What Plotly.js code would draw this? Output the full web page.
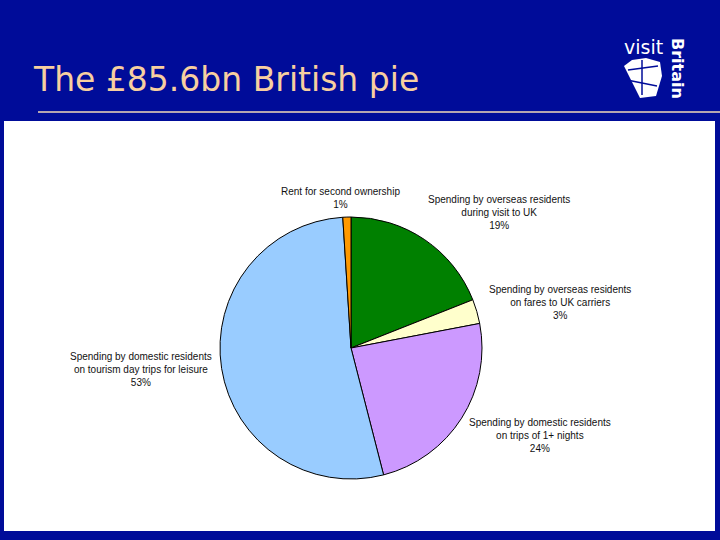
<!DOCTYPE html>
<html>
<head>
<meta charset="utf-8">
<script src="https://cdn.plot.ly/plotly-3.0.1.min.js"></script>
<style>html,body{margin:0;padding:0;background:#000C99;}#chart{width:720px;height:540px;}</style>
</head>
<body>
<div id="chart"></div>
<script>
// Data (clockwise from 12 o'clock)
const categories = [
  "Spending by overseas residents<br>during visit to UK",
  "Spending by overseas residents<br>on fares to UK carriers",
  "Spending by domestic residents<br>on trips of 1+ nights",
  "Spending by domestic residents<br>on tourism day trips for leisure",
  "Rent for second ownership"
];
const shares = [19, 3, 24, 53, 1];
const sliceColors = ["#008000", "#FFFFCC", "#CC99FF", "#99CCFF", "#FF9900"];
const titleText = "The £85.6bn British pie";

const W = 720, H = 540;
const px = x => x / W;
const py = y => 1 - y / H;

// label centres (pixels) for each category
const labelPos = [[499, 213], [560, 302], [540, 435], [141, 369], [340, 198]];

const annotations = categories.map((c, i) => ({
  text: c + "<br>" + shares[i] + "%",
  x: px(labelPos[i][0]), y: py(labelPos[i][1]),
  xref: "paper", yref: "paper", xanchor: "center", yanchor: "middle",
  showarrow: false, align: "center",
  font: {family: "Liberation Sans, Arial, sans-serif", size: 10, color: "#111"}
}));

// logo text
annotations.push({
  text: "visit", x: px(643), y: py(47), xref: "paper", yref: "paper",
  xanchor: "center", yanchor: "middle", showarrow: false,
  font: {family: "DejaVu Sans", size: 19, color: "#FFFFFF"}
});
annotations.push({
  text: "<b>Britain</b>", x: px(677), y: py(68), xref: "paper", yref: "paper",
  xanchor: "center", yanchor: "middle", showarrow: false, textangle: 90,
  font: {family: "DejaVu Sans", size: 16, color: "#FFFFFF"}
});

const cx = 351, cy = 348, r = 131;

const data = [{
  type: "pie",
  values: shares,
  labels: categories,
  marker: {colors: sliceColors, line: {color: "#000000", width: 1}},
  sort: false,
  direction: "clockwise",
  rotation: 0,
  textinfo: "none",
  hoverinfo: "none",
  showlegend: false,
  domain: {x: [px(cx - r), px(cx + r)], y: [py(cy + r), py(cy - r)]}
}];

// emblem rays
const fanPath = "M " + px(640) + "," + py(98) + " L " + px(624) + "," + py(66) +
  " L " + px(632) + "," + py(60) + " L " + px(646) + "," + py(58) +
  " L " + px(660) + "," + py(62) + " L " + px(662) + "," + py(76) +
  " L " + px(656) + "," + py(96) + " Z";

const layout = {
  width: W, height: H,
  margin: {l: 0, r: 0, t: 0, b: 0},
  paper_bgcolor: "#000C99",
  plot_bgcolor: "#000C99",
  title: {
    text: titleText,
    x: px(34), xanchor: "left", xref: "paper",
    y: py(79), yanchor: "middle", yref: "paper",
    font: {family: "DejaVu Sans, Verdana, sans-serif", size: 33, color: "#F7CFA0"}
  },
  shapes: [
    {type: "rect", xref: "paper", yref: "paper", layer: "below",
     x0: px(4), x1: px(715), y0: py(531), y1: py(121),
     fillcolor: "#FFFFFF", line: {width: 0}},
    {type: "line", xref: "paper", yref: "paper",
     x0: px(38), x1: px(720), y0: py(112), y1: py(112),
     line: {color: "#F2D8B8", width: 1.5}},
    {type: "path", xref: "paper", yref: "paper", path: fanPath,
     fillcolor: "#FFFFFF", line: {color: "#FFFFFF", width: 0}},
    {type: "line", xref: "paper", yref: "paper",
     x0: px(628), x1: px(658), y0: py(70), y1: py(66),
     line: {color: "#000C99", width: 1.5}},
    {type: "line", xref: "paper", yref: "paper",
     x0: px(627), x1: px(657), y0: py(80), y1: py(86),
     line: {color: "#000C99", width: 1.5}},
    {type: "line", xref: "paper", yref: "paper",
     x0: px(642), x1: px(642), y0: py(60), y1: py(95),
     line: {color: "#000C99", width: 1.5}}
  ],
  annotations: annotations
};

Plotly.newPlot("chart", data, layout, {staticPlot: true, displayModeBar: false});
</script>
</body>
</html>
